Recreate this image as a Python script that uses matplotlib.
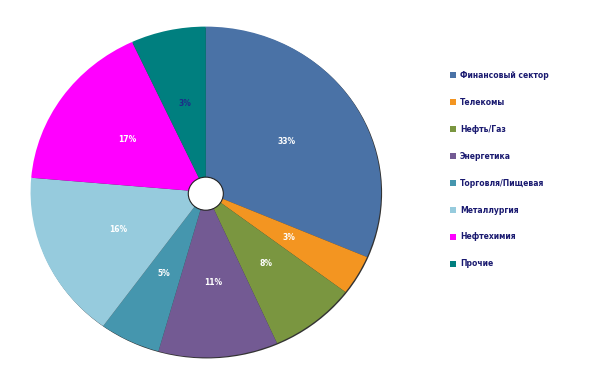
import numpy as np
import matplotlib.pyplot as plt
from matplotlib.patches import Circle, Patch

# sectors, measured slice shares and printed labels
sectors = ['Финансовый сектор', 'Телекомы', 'Нефть/Газ', 'Энергетика',
           'Торговля/Пищевая', 'Металлургия', 'Нефтехимия', 'Прочие']
shares = [31.4, 3.9, 8.0, 11.0, 5.6, 16.4, 16.7, 6.9]
pct_labels = ['33%', '3%', '8%', '11%', '5%', '16%', '17%', '3%']
colors = ['#4A72A6', '#F39521', '#7A9640', '#735A93',
          '#4596AE', '#96CBDD', '#FF00FF', '#007F7F']
txt_colors = ['white'] * 7 + ['#1F2A8A']

fig = plt.figure(figsize=(6, 3.78), dpi=100)
ax = fig.add_axes([0.048, 0.05, 0.59, 0.884])

# slight dark rim on the lower right, like the original shadow
ax.pie([1], radius=1.0, center=(0.006, -0.006), colors=['#333333'])
wedges, _ = ax.pie(shares, colors=colors, startangle=90, counterclock=False,
                   wedgeprops=dict(linewidth=0))

for w, lab, tc in zip(wedges, pct_labels, txt_colors):
    ang = np.deg2rad((w.theta1 + w.theta2) / 2)
    ax.text(0.55 * np.cos(ang), 0.55 * np.sin(ang), lab, ha='center', va='center',
            fontsize=5.5, fontweight='bold', color=tc)

ax.add_patch(Circle((0, -0.01), 0.1, facecolor='white', edgecolor='#222222', linewidth=0.8, zorder=5))
ax.set_aspect('auto')
ax.set_xlim(-1.01, 1.01)
ax.set_ylim(-1.01, 1.01)
ax.axis('off')

handles = [Patch(facecolor=c, edgecolor='none') for c in colors]
leg = fig.legend(handles, sectors, loc='upper left', bbox_to_anchor=(0.738, 0.831),
                 frameon=False, fontsize=5.5, labelspacing=2.35,
                 handlelength=0.85, handleheight=0.85, handletextpad=0.5,
                 labelcolor='#1A1A70')
for t in leg.get_texts():
    t.set_fontweight('bold')

fig.savefig('out.png', dpi=100)
